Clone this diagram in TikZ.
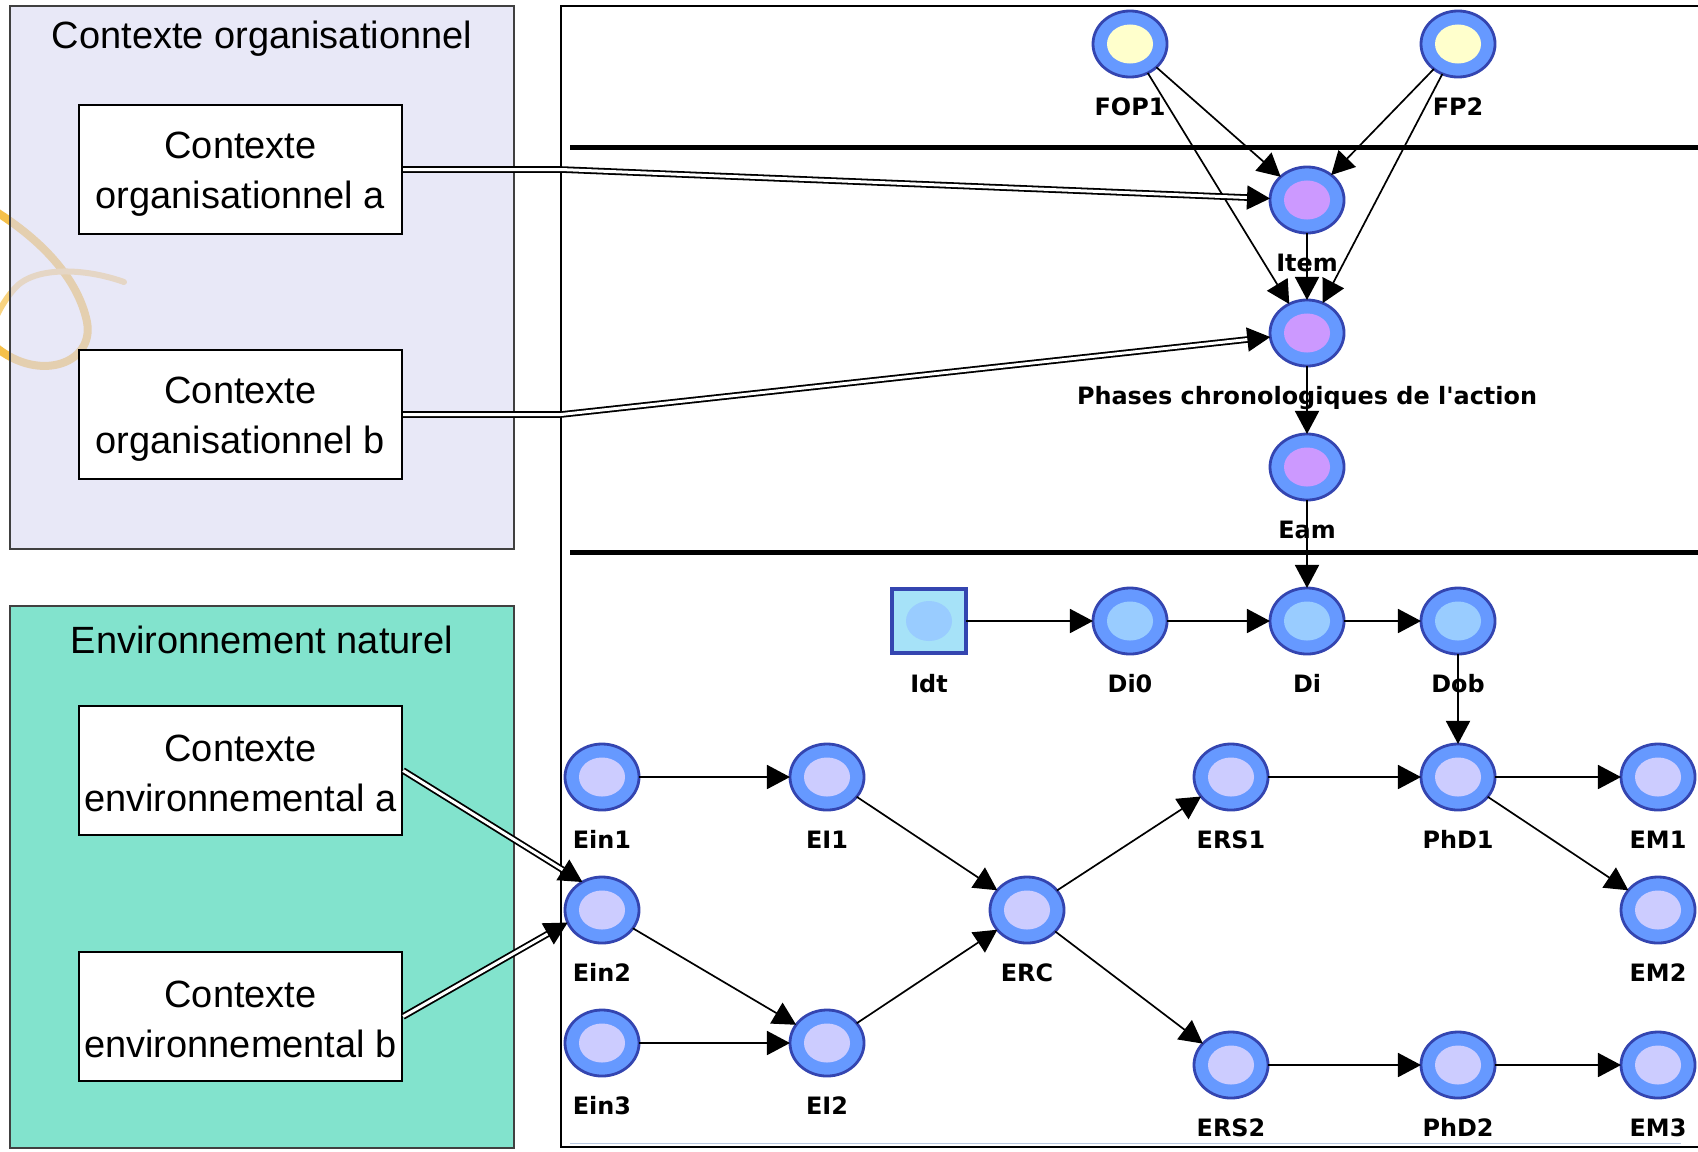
\documentclass[tikz,border=0pt]{standalone}
\usepackage{fontspec}
\setmainfont{Liberation Sans}
\newfontfamily\lblfont{DejaVu Sans}
\usetikzlibrary{arrows.meta,shapes.geometric}

\definecolor{ringblue}{HTML}{6699FF}
\definecolor{ringline}{HTML}{3445B0}
\definecolor{lavin}{HTML}{CCCCFF}
\definecolor{violetin}{HTML}{CC99FF}
\definecolor{yellowin}{HTML}{FFFFCC}
\definecolor{bluein}{HTML}{99CCFF}
\definecolor{idtfill}{HTML}{A6E2F8}
\definecolor{orgfill}{RGB}{217,217,243}
\definecolor{envfill}{HTML}{82E3CD}
\definecolor{ribbon}{HTML}{F5C04A}
\definecolor{scrollline}{HTML}{B8C8E0}

\tikzset{
  gnode/.style={ellipse, minimum width=0.74cm, minimum height=0.66cm,
    inner sep=0pt, outer sep=0pt, fill=ringblue, draw=ringline, line width=0.028cm,
    path picture={\fill[#1] (path picture bounding box.center) ellipse (0.23cm and 0.195cm);}},
  idtnode/.style={rectangle, minimum width=0.74cm, minimum height=0.64cm,
    inner sep=0pt, outer sep=0pt, fill=idtfill, draw=ringline, line width=0.032cm,
    path picture={\fill[bluein] (path picture bounding box.center) ellipse (0.23cm and 0.2cm);}},
  glabel/.style={font=\lblfont\bfseries\fontsize{6.8}{8}\selectfont, anchor=base, inner sep=0pt},
  edge/.style={draw=black, line width=0.017cm, -{Triangle[length=0.23cm, width=0.24cm]}},
  dblarrow/.style={draw=black, double=white, double distance=0.03cm, line width=0.018cm,
    -{Triangle[length=0.23cm, width=0.24cm]}},
  ctxbox/.style={draw=black, fill=white, line width=0.02cm, minimum width=3.23cm,
    minimum height=1.29cm, inner sep=0pt},
  ctxtext/.style={align=center, inner sep=0pt, font=\fontsize{10.8}{14.2}\selectfont},
  zone/.style={draw=black!75, line width=0.015cm, minimum width=5.04cm, inner sep=0pt},
  zonetitle/.style={font=\fontsize{10.8}{13}\selectfont, inner sep=0pt},
}

% a network node with its caption underneath
\newcommand{\netnode}[5]{%
  \node[gnode=#4] (#1) at (#2,#3) {};
  \node[glabel] (#1-lbl) at (#2,#3+71) {#5};}

% a white context box with its two-line text
\newcommand{\ctxnode}[4]{%
  \node[ctxbox] (#1) at (240.5,#2) {};
  \node[ctxtext] (#1-txt) at (240.5,#2+#3) {#4};}

\begin{document}
\begin{tikzpicture}[x=0.01cm, y=-0.01cm]
\useasboundingbox (0,0) rectangle (1698,1151);
\fill[white] (0,0) rectangle (1698,1151);

% ribbon of the slide background
\draw[ribbon, line width=0.08cm, line cap=round]
  (-10,208) .. controls (40,238) and (78,278) .. (87,322)
  .. controls (95,365) and (35,385) .. (-10,342);
\draw[ribbon!70!white, line width=0.06cm, line cap=round]
  (124,282) .. controls (85,268) and (35,266) .. (15,288)
  .. controls (0,305) and (-5,320) .. (-10,330);

% the two context zones
\node[zone, fill=orgfill, fill opacity=0.6, minimum height=5.43cm] (org) at (262,277.5) {};
\node[zone, fill=envfill, minimum height=5.42cm] (env) at (262,877) {};
\node[zonetitle] (orgtitle) at (262,39) {Contexte organisationnel};
\node[zonetitle] (envtitle) at (262,640) {Environnement naturel};

\ctxnode{ctxa}{169.5}{5}{Contexte\\organisationnel a}
\ctxnode{ctxb}{414.5}{5}{Contexte\\organisationnel b}
\ctxnode{enva}{770.5}{3}{Contexte\\environnemental a}
\ctxnode{envb}{1016.5}{3}{Contexte\\environnemental b}

% frame of the network and its layers
\draw[line width=0.022cm] (1710,6) -- (561,6) -- (561,1147) -- (1710,1147);
\draw[line width=0.05cm] (570,147) -- (1710,147);
\draw[line width=0.05cm] (570,552) -- (1710,552);
\draw[scrollline, line width=0.01cm] (570,1143) -- (1681,1143);
\coordinate (ja) at (561,169.5);

% network nodes
\netnode{FOP1}{1130}{44}{yellowin}{FOP1}
\netnode{FP2}{1458}{44}{yellowin}{FP2}
\netnode{Item}{1307}{200}{violetin}{Item}
\netnode{Phases}{1307}{333}{violetin}{Phases chronologiques de l'action}
\netnode{Eam}{1307}{467}{violetin}{Eam}

\node[idtnode] (Idt) at (929,621) {};
\node[glabel] (Idt-lbl) at (929,692) {Idt};
\netnode{Di0}{1130}{621}{bluein}{Di0}
\netnode{Di}{1307}{621}{bluein}{Di}
\netnode{Dob}{1458}{621}{bluein}{Dob}

\netnode{Ein1}{602}{777}{lavin}{Ein1}
\netnode{EI1}{827}{777}{lavin}{EI1}
\netnode{ERS1}{1231}{777}{lavin}{ERS1}
\netnode{PhD1}{1458}{777}{lavin}{PhD1}
\netnode{EM1}{1658}{777}{lavin}{EM1}
\netnode{Ein2}{602}{910}{lavin}{Ein2}
\netnode{ERC}{1027}{910}{lavin}{ERC}
\netnode{EM2}{1658}{910}{lavin}{EM2}
\netnode{Ein3}{602}{1043}{lavin}{Ein3}
\netnode{EI2}{827}{1043}{lavin}{EI2}
\netnode{ERS2}{1231}{1065}{lavin}{ERS2}
\netnode{PhD2}{1458}{1065}{lavin}{PhD2}
\netnode{EM3}{1658}{1065}{lavin}{EM3}

% links
\draw[edge] (FOP1) -- (Item);
\draw[edge] (FOP1) -- (Phases);
\draw[edge] (FP2) -- (Item);
\draw[edge] (FP2) -- (Phases);
\draw[edge] (Item) -- (Phases);
\draw[edge] (Phases) -- (Eam);
\draw[edge] (Eam) -- (Di);
\draw[edge] (Idt) -- (Di0);
\draw[edge] (Di0) -- (Di);
\draw[edge] (Di) -- (Dob);
\draw[edge] (Dob) -- (PhD1);
\draw[edge] (Ein1) -- (EI1);
\draw[edge] (EI1) -- (ERC);
\draw[edge] (Ein2) -- (EI2);
\draw[edge] (Ein3) -- (EI2);
\draw[edge] (EI2) -- (ERC);
\draw[edge] (ERC) -- (ERS1);
\draw[edge] (ERC) -- (ERS2);
\draw[edge] (ERS1) -- (PhD1);
\draw[edge] (PhD1) -- (EM1);
\draw[edge] (PhD1) -- (EM2);
\draw[edge] (ERS2) -- (PhD2);
\draw[edge] (PhD2) -- (EM3);

% context influences
\draw[dblarrow] (ctxa.east) -- (ctxa.east -| ja) -- (Item);
\draw[dblarrow] (ctxb.east) -- (ctxb.east -| ja) -- (Phases);
\draw[dblarrow] (enva.east) -- (Ein2.125);
\draw[dblarrow] (envb.east) -- (Ein2.200);
\end{tikzpicture}
\end{document}
